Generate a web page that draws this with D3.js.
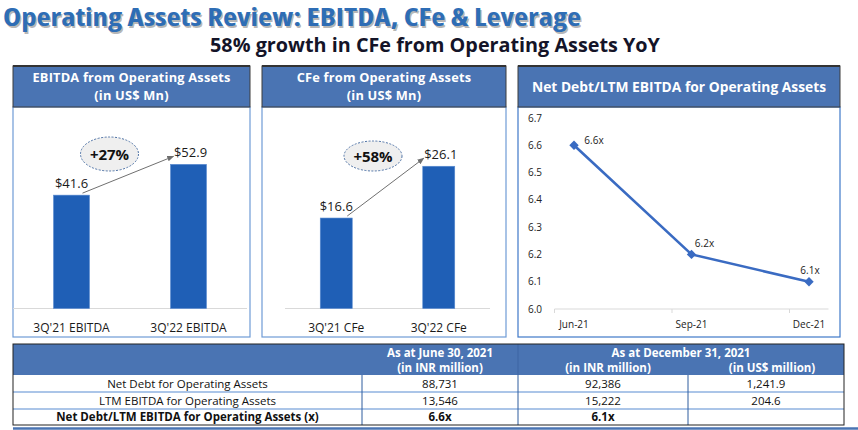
<!DOCTYPE html>
<html>
<head>
<meta charset="utf-8">
<script src="https://cdn.jsdelivr.net/npm/d3@7/dist/d3.min.js"></script>
<style>
  html, body { margin: 0; padding: 0; background: #fff; }
  svg { display: block; }
  .cond { font-family: "Open Sans", sans-serif; font-stretch: condensed; }
  .os { font-family: "Open Sans", sans-serif; }
</style>
</head>
<body>
<svg id="chart" width="858" height="430"></svg>
<script>
// ---------- DATA ----------
const titleText = "Operating Assets Review: EBITDA, CFe & Leverage";
const subtitleText = "58% growth in CFe from Operating Assets YoY";

const ebitdaTitle = ["EBITDA from Operating Assets", "(in US$ Mn)"];
const ebitdaCats = ["3Q'21 EBITDA", "3Q'22 EBITDA"];
const ebitdaVals = [41.6, 52.9];
const ebitdaGrowth = "+27%";

const cfeTitle = ["CFe from Operating Assets", "(in US$ Mn)"];
const cfeCats = ["3Q'21 CFe", "3Q'22 CFe"];
const cfeVals = [16.6, 26.1];
const cfeGrowth = "+58%";

const levTitle = ["Net Debt/LTM EBITDA for Operating Assets"];
const levCats = ["Jun-21", "Sep-21", "Dec-21"];
const levVals = [6.6, 6.2, 6.1];
const levTicks = [6.0, 6.1, 6.2, 6.3, 6.4, 6.5, 6.6, 6.7];

const tableRowLabels = ["Net Debt for Operating Assets", "LTM EBITDA for Operating Assets", "Net Debt/LTM EBITDA for Operating Assets (x)"];
const tableJun21INR = ["88,731", "13,546", "6.6x"];
const tableDec21INR = ["92,386", "15,222", "6.1x"];
const tableDec21USD = ["1,241.9", "204.6", ""];

// ---------- STYLE ----------
const headerFill = "#4a74b3";
const barFill = "#1f5fb6";
const lineColor = "#3a6bc2";

const svg = d3.select("#chart");

// ---------- TITLES ----------
svg.append("text").attr("class", "cond").attr("x", 4.5).attr("y", 27.5)
  .attr("font-size", 25.5).attr("font-weight", 700).attr("fill", "rgba(0,0,0,0.28)")
  .attr("textLength", 578).attr("lengthAdjust", "spacingAndGlyphs")
  .text(titleText);
svg.append("text").attr("class", "cond").attr("x", 3).attr("y", 26)
  .attr("font-size", 25.5).attr("font-weight", 700).attr("fill", "#2e6db5")
  .attr("textLength", 578).attr("lengthAdjust", "spacingAndGlyphs")
  .text(titleText);
svg.append("text").attr("class", "os").attr("x", 435).attr("y", 52)
  .attr("text-anchor", "middle")
  .attr("font-size", 19.8).attr("font-weight", 700).attr("fill", "#141428")
  .text(subtitleText);

// ---------- PANEL FRAMES ----------
function panel(x0, x1, titleLines, bodyStroke) {
  const g = svg.append("g");
  g.append("rect").attr("x", x0).attr("y", 107).attr("width", x1 - x0).attr("height", 230)
    .attr("fill", "#fff").attr("stroke", bodyStroke).attr("stroke-width", 1.2);
  g.append("rect").attr("x", x0).attr("y", 66).attr("width", x1 - x0).attr("height", 41)
    .attr("fill", headerFill).attr("stroke", "#3c3c3c").attr("stroke-width", 1);
  g.append("line").attr("x1", x0).attr("x2", x1).attr("y1", 66).attr("y2", 66)
    .attr("stroke", "#333").attr("stroke-width", 2);
  const cx = (x0 + x1) / 2;
  const single = titleLines.length === 1;
  const ys = single ? [91.5] : [82, 99.5];
  titleLines.forEach((s, i) => {
    g.append("text").attr("class", "os").attr("x", cx).attr("y", ys[i])
      .attr("text-anchor", "middle").attr("font-size", single ? 13.8 : 12.8).attr("font-weight", 700)
      .attr("fill", "#fff").attr("letter-spacing", single ? 0 : 0.2).text(s);
  });
  return g;
}

// ---------- BAR PANELS ----------
const defs = svg.append("defs");
defs.append("marker").attr("id", "arrow").attr("viewBox", "0 0 10 10")
  .attr("refX", 9).attr("refY", 5).attr("markerWidth", 7).attr("markerHeight", 7)
  .attr("orient", "auto")
  .append("path").attr("d", "M0,1 L10,5 L0,9 Z").attr("fill", "#6e6e6e");

function barPanel(x0, x1, titleLines, cats, vals, yMax, xr, barW, growth, ell) {
  const g = panel(x0, x1, titleLines, "#6f9bd6");
  const x = d3.scaleBand().domain(cats).range(xr).padding(0);
  const y = d3.scaleLinear().domain([0, yMax]).range([308.5, 145]);
  g.append("line").attr("x1", xr[0]).attr("x2", xr[1]).attr("y1", y(0)).attr("y2", y(0))
    .attr("stroke", "#d9d9d9").attr("stroke-width", 1.2);
  const cxOf = c => x(c) + x.bandwidth() / 2;
  g.selectAll("rect.bar").data(cats).join("rect").attr("class", "bar")
    .attr("x", c => cxOf(c) - barW / 2).attr("width", barW)
    .attr("y", (c, i) => y(vals[i])).attr("height", (c, i) => y(0) - y(vals[i]))
    .attr("fill", barFill).attr("stroke", "#5a8bd0").attr("stroke-width", 0.6);
  g.selectAll("text.val").data(cats).join("text").attr("class", "val os")
    .attr("x", (c, i) => cxOf(c) + (i === 1 ? 2 : 0)).attr("y", (c, i) => y(vals[i]) - 7)
    .attr("text-anchor", "middle").attr("font-size", 13).attr("fill", "#1a1a1a")
    .text((c, i) => "$" + vals[i].toFixed(1));
  g.selectAll("text.cat").data(cats).join("text").attr("class", "cat os")
    .attr("x", c => cxOf(c)).attr("y", 332)
    .attr("text-anchor", "middle").attr("font-size", 12).attr("fill", "#1a1a1a")
    .text(c => c);
  const ax1 = cxOf(cats[0]) + 11, ay1 = y(vals[0]) - 2;
  const ax2 = cxOf(cats[1]) - 15, ay2 = y(vals[1]) - 8;
  g.append("line").attr("x1", ax1).attr("y1", ay1).attr("x2", ax2).attr("y2", ay2)
    .attr("stroke", "#707070").attr("stroke-width", 1).attr("marker-end", "url(#arrow)");
  g.append("ellipse").attr("cx", ell[0]).attr("cy", ell[1]).attr("rx", ell[2]).attr("ry", ell[3])
    .attr("fill", "#efefef").attr("stroke", "#4f73a6").attr("stroke-width", 1)
    .attr("stroke-dasharray", "2,1.5");
  g.append("text").attr("class", "os").attr("x", ell[0]).attr("y", ell[1] + 5.5)
    .attr("text-anchor", "middle").attr("font-size", 15).attr("font-weight", 700)
    .attr("fill", "#111").text(growth);
}

barPanel(13, 250, ebitdaTitle, ebitdaCats, ebitdaVals, 60, [13, 247], 36, ebitdaGrowth, [109.5, 154, 29, 17]);
barPanel(262, 506, cfeTitle, cfeCats, cfeVals, 30, [285, 490], 32, cfeGrowth, [373, 156, 29, 15]);

// ---------- LINE PANEL ----------
(function () {
  const g = panel(518, 840, levTitle, "#3f78c8");
  const x = d3.scalePoint().domain(levCats).range([574, 809]);
  const y = d3.scaleLinear().domain([6.0, 6.7]).range([309, 118]);
  const tickOff = -19.5;
  g.append("line").attr("x1", x(levCats[0]) + tickOff).attr("x2", x(levCats[levCats.length - 1]) - tickOff)
    .attr("y1", y(6.0)).attr("y2", y(6.0)).attr("stroke", "#d9d9d9").attr("stroke-width", 1);
  g.selectAll("line.tk").data(levCats).join("line").attr("class", "tk")
    .attr("x1", c => x(c) + tickOff).attr("x2", c => x(c) + tickOff)
    .attr("y1", y(6.0)).attr("y2", y(6.0) + 4).attr("stroke", "#d9d9d9");
  g.selectAll("text.xl").data(levCats).join("text").attr("class", "xl os")
    .attr("x", c => x(c)).attr("y", 328).attr("text-anchor", "middle")
    .attr("font-size", 10).attr("fill", "#222").text(c => c);
  g.selectAll("text.yl").data(levTicks).join("text").attr("class", "yl os")
    .attr("x", 542).attr("y", v => y(v) + 3.5).attr("text-anchor", "end")
    .attr("font-size", 10).attr("fill", "#222").text(v => v.toFixed(1));
  const line = d3.line().x((d, i) => x(levCats[i])).y(d => y(d));
  g.append("path").datum(levVals).attr("d", line).attr("fill", "none")
    .attr("stroke", lineColor).attr("stroke-width", 2.6);
  const sym = d3.symbol().type(d3.symbolSquare).size(44);
  g.selectAll("path.mk").data(levVals).join("path").attr("class", "mk")
    .attr("transform", (d, i) => `translate(${x(levCats[i])},${y(d)}) rotate(45)`)
    .attr("d", sym).attr("fill", lineColor);
  const ldx = [20, 13, 1], ldy = [-1, -7, -8];
  g.selectAll("text.dl").data(levVals).join("text").attr("class", "dl os")
    .attr("x", (d, i) => x(levCats[i]) + ldx[i]).attr("y", (d, i) => y(d) + ldy[i])
    .attr("text-anchor", "middle").attr("font-size", 10).attr("fill", "#222")
    .text(d => d.toFixed(1) + "x");
})();

// ---------- TABLE ----------
(function () {
  const cols = [13, 362, 518, 688, 844];
  const rowsY = [344, 375, 392, 409, 425];
  const g = svg.append("g");
  g.append("rect").attr("x", cols[0]).attr("y", rowsY[0]).attr("width", cols[4] - cols[0])
    .attr("height", rowsY[1] - rowsY[0]).attr("fill", headerFill);
  g.append("line").attr("x1", cols[2]).attr("x2", cols[2]).attr("y1", rowsY[0]).attr("y2", rowsY[1])
    .attr("stroke", "#3d65a3").attr("stroke-width", 1);
  [2, 3].forEach(r => {
    g.append("line").attr("x1", cols[0]).attr("x2", cols[4]).attr("y1", rowsY[r]).attr("y2", rowsY[r])
      .attr("stroke", "#8fb2e0").attr("stroke-width", 1.5);
  });
  [1, 2, 3].forEach(c => {
    g.append("line").attr("x1", cols[c]).attr("x2", cols[c]).attr("y1", rowsY[1]).attr("y2", rowsY[4])
      .attr("stroke", "#2f5c9e").attr("stroke-width", 1);
  });
  g.append("rect").attr("x", cols[0]).attr("y", rowsY[0]).attr("width", cols[4] - cols[0])
    .attr("height", rowsY[4] - rowsY[0]).attr("fill", "none").attr("stroke", "#222").attr("stroke-width", 1);
  g.append("line").attr("x1", cols[0]).attr("x2", 858).attr("y1", 428.5).attr("y2", 428.5)
    .attr("stroke", "#4a74b3").attr("stroke-width", 2.5);

  const hdr = (t, x, y) => g.append("text").attr("class", "os").attr("x", x).attr("y", y)
    .attr("text-anchor", "middle").attr("font-size", 11.5).attr("font-weight", 700)
    .attr("fill", "#fff").text(t);
  hdr("As at June 30, 2021", (cols[1] + cols[2]) / 2, 357);
  hdr("(in INR million)", (cols[1] + cols[2]) / 2, 371.5);
  hdr("As at December 31, 2021", (cols[2] + cols[4]) / 2, 357);
  hdr("(in INR million)", (cols[2] + cols[3]) / 2 + 5, 371.5);
  hdr("(in US$ million)", (cols[3] + cols[4]) / 2 + 6, 371.5);

  const colData = [tableRowLabels, tableJun21INR, tableDec21INR, tableDec21USD];
  colData.forEach((arr, ci) => {
    arr.forEach((t, ri) => {
      g.append("text").attr("class", "os")
        .attr("x", (cols[ci] + cols[ci + 1]) / 2).attr("y", (rowsY[ri + 1] + rowsY[ri + 2]) / 2 + 4.2)
        .attr("text-anchor", "middle").attr("font-size", 11.5)
        .attr("font-weight", ri === 2 ? 700 : 400).attr("fill", "#111").text(t);
    });
  });
})();
</script>
</body>
</html>
